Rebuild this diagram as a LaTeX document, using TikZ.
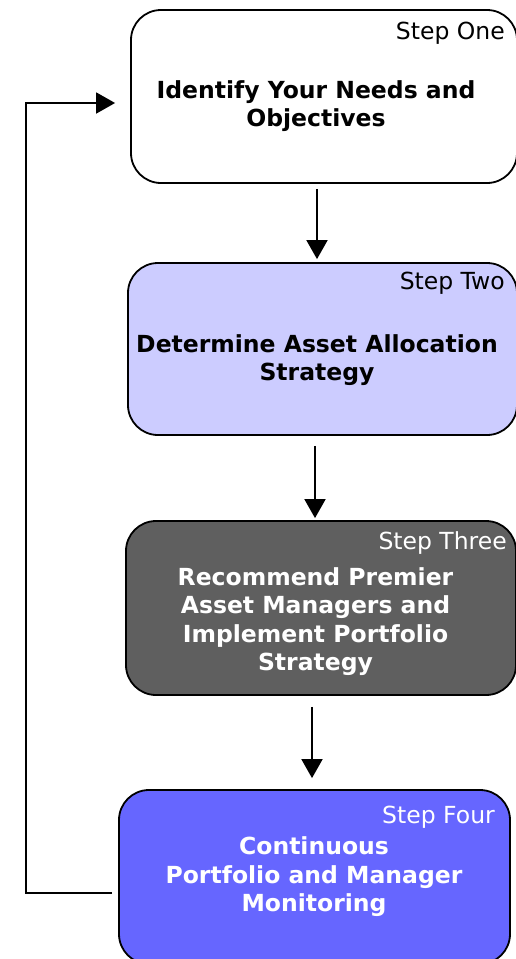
\documentclass[tikz,border=0pt]{standalone}
\usepackage{fontspec}
\setmainfont{DejaVu Sans}
\usetikzlibrary{arrows.meta}
\definecolor{stepTwoFill}{HTML}{CCCCFF}
\definecolor{stepThreeFill}{HTML}{5F5F5F}
\definecolor{stepFourFill}{HTML}{6666FF}
\begin{document}
\begin{tikzpicture}[x=1bp,y=-1bp,
  stepbox/.style={draw=black, line width=1.8bp, rounded corners=30bp, inner sep=0pt},
  steptitle/.style={font=\fontsize{23.5bp}{28.5bp}\selectfont, anchor=base east, inner sep=0pt},
  stepbody/.style={font=\fontsize{23.5bp}{28.5bp}\selectfont\bfseries, align=center, inner sep=0pt},
  arr/.style={line width=1.8bp, -{Triangle[width=21bp,length=19bp]}}]
  \useasboundingbox (0,0) rectangle (516,959);

  % the four process stages
  \node[stepbox, fill=white, minimum width=386bp, minimum height=173bp] (b1) at (324,96.5) {};
  \node[stepbox, fill=stepTwoFill, minimum width=389bp, minimum height=172bp] (b2) at (322.5,349) {};
  \node[stepbox, fill=stepThreeFill, minimum width=390bp, minimum height=174bp] (b3) at (321,608) {};
  \node[stepbox, fill=stepFourFill, minimum width=391bp, minimum height=174bp] (b4) at (314.5,877) {};

  % stage numbers
  \node[steptitle] (t1) at (505,39) {Step One};
  \node[steptitle] (t2) at (505,289) {Step Two};
  \node[steptitle, text=white] (t3) at (507,549) {Step Three};
  \node[steptitle, text=white] (t4) at (495,823) {Step Four};

  % stage descriptions
  \node[stepbody] (d1) at (316,106) {Identify Your Needs and\\Objectives};
  \node[stepbody] (d2) at (317,360) {Determine Asset Allocation\\Strategy};
  \node[stepbody, text=white] (d3) at (315.5,621.5) {Recommend Premier\\Asset Managers and\\Implement Portfolio\\Strategy};
  \node[stepbody, text=white] (d4) at (314,877) {Continuous\\Portfolio and Manager\\Monitoring};

  % forward arrows
  \draw[arr, shorten <=5bp, shorten >=3bp] ([xshift=-7bp]b1.south) -- ([xshift=-7bp]b1.south |- b2.north);
  \draw[arr, shorten <=10bp, shorten >=2bp] ([xshift=-7.5bp]b2.south) -- ([xshift=-7.5bp]b2.south |- b3.north);
  \draw[arr, shorten <=11bp, shorten >=11bp] ([xshift=-9bp]b3.south) -- ([xshift=-9bp]b3.south |- b4.north);

  % feedback loop
  \draw[arr, shorten <=6bp, shorten >=15bp] ([yshift=-16bp]b4.west) -- ++(-92,0) |- ([yshift=-6.5bp]b1.west);
\end{tikzpicture}
\end{document}
